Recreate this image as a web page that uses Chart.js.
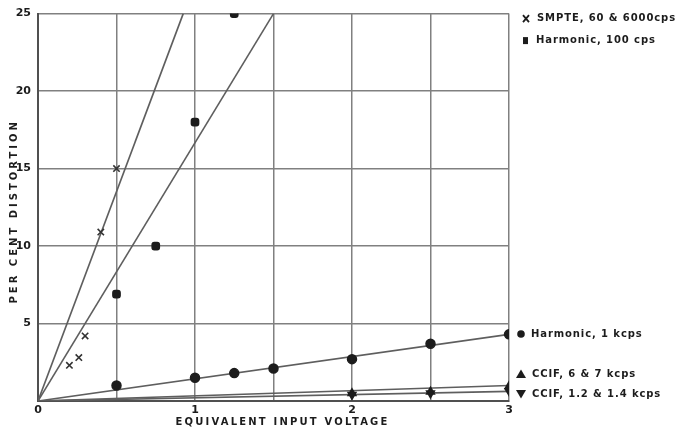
<!DOCTYPE html>
<html>
<head>
<meta charset="utf-8">
<script src="https://cdn.jsdelivr.net/npm/chart.js@4/dist/chart.umd.min.js"></script>
<style>
  html, body { margin: 0; padding: 0; background: #fff; overflow: hidden; }
  #wrap { width: 681px; height: 430px; position: relative; }
  #c { display: block; }
</style>
</head>
<body>
<div id="wrap"><canvas id="c" width="681" height="430"></canvas></div>
<script>
// Measured distortion points (equivalent input voltage vs per cent distortion)
const smpteV = [0.2, 0.26, 0.3, 0.4, 0.5];
const smptePct = [2.3, 2.8, 4.2, 10.9, 15];
const harm100V = [0.5, 0.75, 1, 1.25];
const harm100Pct = [6.9, 10, 18, 25];
const harm1kV = [0.5, 1, 1.25, 1.5, 2, 2.5, 3];
const harm1kPct = [1.0, 1.5, 1.8, 2.1, 2.7, 3.7, 4.3];
const ccif67V = [2, 2.5, 3];
const ccif67Pct = [0.5, 0.6, 0.95];
const ccif12V = [2, 2.5, 3];
const ccif12Pct = [0.4, 0.5, 0.65];

// Straight-line trends drawn from the origin
const smpteFitV = [0, 0.925];
const smpteFitPct = [0, 25];
const harm100FitV = [0, 1.5];
const harm100FitPct = [0, 25];
const harm1kFitV = [0, 3];
const harm1kFitPct = [0, 4.3];
const ccif67FitV = [0, 3];
const ccif67FitPct = [0, 1.0];
const ccif12FitV = [0, 3];
const ccif12FitPct = [0, 0.62];

// Axis ranges and labels
const xTickValues = [0, 1, 2, 3];
const yTickValues = [5, 10, 15, 20, 25];
const xTitle = "EQUIVALENT INPUT VOLTAGE";
const yTitle = "PER CENT DISTORTION";
const legendLabels = [
  "SMPTE, 60 & 6000cps",
  "Harmonic, 100 cps",
  "Harmonic, 1 kcps",
  "CCIF, 6 & 7 kcps",
  "CCIF, 1.2 & 1.4 kcps"
];

const pts = (xs, ys) => xs.map((x, i) => ({ x: x, y: ys[i] }));
const INK = '#1c1c1c';
const LINE = '#5e5e5e';
const GRID = '#808080';
const FONT = '"DejaVu Sans", sans-serif';

function fit(xs, ys) {
  return { data: pts(xs, ys), showLine: true, pointRadius: 0, borderColor: LINE, borderWidth: 1.6, order: 2 };
}
function marks(xs, ys, style, r, extra) {
  return Object.assign({
    data: pts(xs, ys), showLine: false, pointStyle: style, pointRadius: r,
    backgroundColor: INK, borderColor: INK, borderWidth: 1.5, order: 1
  }, extra || {});
}

// Axis titles and the right-hand key, drawn with letter spacing
const annotate = {
  id: 'annotate',
  afterDraw(chart) {
    const ctx = chart.ctx;
    const a = chart.chartArea;
    ctx.save();
    ctx.fillStyle = INK;
    ctx.strokeStyle = INK;
    ctx.textBaseline = 'middle';

    // axis titles
    ctx.font = 'bold 10px ' + FONT;
    ctx.letterSpacing = '2.2px';
    ctx.textAlign = 'center';
    ctx.fillText(xTitle, (a.left + a.right) / 2 + 9, 422);
    ctx.save();
    ctx.translate(14, (a.top + a.bottom) / 2 + 4);
    ctx.rotate(-Math.PI / 2);
    ctx.letterSpacing = '3px';
    ctx.fillText(yTitle, 0, 0);
    ctx.restore();

    // key
    ctx.font = 'bold 10px ' + FONT;
    ctx.letterSpacing = '0.9px';
    ctx.textAlign = 'left';
    const x0 = a.right + 12;
    const rows = [a.top + 5, a.top + 27, a.bottom - 67, a.bottom - 27, a.bottom - 7];
    // X marker
    ctx.lineWidth = 1.8;
    ctx.beginPath();
    ctx.moveTo(x0 + 2, rows[0] - 3.5); ctx.lineTo(x0 + 8, rows[0] + 3.5);
    ctx.moveTo(x0 + 8, rows[0] - 3.5); ctx.lineTo(x0 + 2, rows[0] + 3.5);
    ctx.stroke();
    ctx.fillText(legendLabels[0], x0 + 16, rows[0]);
    // square
    ctx.fillRect(x0 + 2, rows[1] - 3.5, 5, 7);
    ctx.fillText(legendLabels[1], x0 + 15, rows[1]);
    // circle
    ctx.beginPath(); ctx.arc(x0 + 0, rows[2], 3.8, 0, Math.PI * 2); ctx.fill();
    ctx.fillText(legendLabels[2], x0 + 10, rows[2]);
    // up triangle
    ctx.beginPath();
    ctx.moveTo(x0 + 0, rows[3] - 4.5); ctx.lineTo(x0 + 5, rows[3] + 4); ctx.lineTo(x0 - 5, rows[3] + 4);
    ctx.closePath(); ctx.fill();
    ctx.fillText(legendLabels[3], x0 + 11, rows[3]);
    // down triangle
    ctx.beginPath();
    ctx.moveTo(x0 + 0, rows[4] + 4.5); ctx.lineTo(x0 + 5, rows[4] - 4); ctx.lineTo(x0 - 5, rows[4] - 4);
    ctx.closePath(); ctx.fill();
    ctx.fillText(legendLabels[4], x0 + 11, rows[4]);
    ctx.restore();
  }
};

new Chart(document.getElementById('c'), {
  type: 'scatter',
  data: {
    datasets: [
      fit(smpteFitV, smpteFitPct),
      fit(harm100FitV, harm100FitPct),
      fit(harm1kFitV, harm1kFitPct),
      fit(ccif67FitV, ccif67FitPct),
      fit(ccif12FitV, ccif12FitPct),
      marks(smpteV, smptePct, 'crossRot', 4.5, { borderWidth: 1.6, borderColor: '#333' }),
      marks(harm100V, harm100Pct, 'rectRounded', 4.2),
      marks(harm1kV, harm1kPct, 'circle', 4.5),
      marks(ccif67V, ccif67Pct, 'triangle', 4.5),
      marks(ccif12V, ccif12Pct, 'triangle', 4.5, { rotation: 180 })
    ]
  },
  options: {
    responsive: false,
    animation: false,
    devicePixelRatio: 1,
    layout: { padding: { left: 0, top: 11, right: 172, bottom: 0 } },
    plugins: { legend: { display: false }, tooltip: { enabled: false } },
    scales: {
      x: {
        type: 'linear', min: 0, max: 3,
        afterFit(s) { s.height = 29; },
        afterBuildTicks(s) {
          const t = [];
          for (let v = 0; v <= 3.0001; v += 0.5) t.push({ value: Math.round(v * 2) / 2 });
          s.ticks = t;
        },
        ticks: {
          padding: 3, color: INK, maxRotation: 0, autoSkip: false,
          font: { family: FONT, size: 11, weight: 'bold' },
          callback: (v) => xTickValues.includes(v) ? String(v) : ''
        },
        grid: { color: GRID, lineWidth: 1.5, drawTicks: false },
        border: { color: '#505050', width: 2 }
      },
      y: {
        type: 'linear', min: 0, max: 25,
        afterFit(s) { s.width = 38; },
        ticks: {
          stepSize: 5, padding: 7, color: INK,
          font: { family: FONT, size: 11, weight: 'bold' },
          callback: (v) => yTickValues.includes(v) ? String(v) : ''
        },
        grid: { color: GRID, lineWidth: 1.5, drawTicks: false },
        border: { color: '#505050', width: 2 }
      }
    }
  },
  plugins: [annotate]
});
</script>
</body>
</html>
